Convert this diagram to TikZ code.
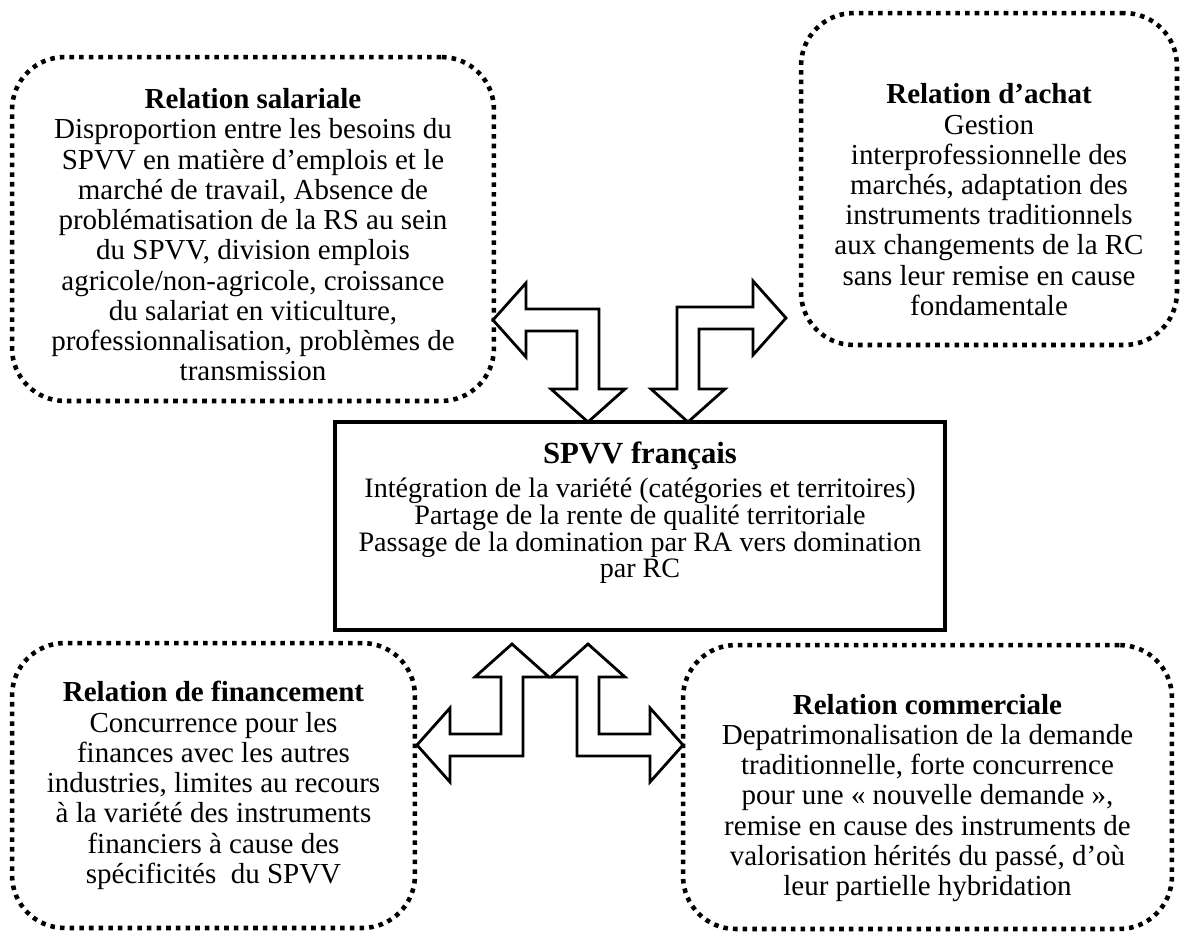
\documentclass[tikz,border=0pt]{standalone}
\usepackage{fontspec}
\setmainfont{Liberation Serif}
\tikzset{
  relbox/.style={draw, line width=2.6pt, dash pattern=on 2.6pt off 2.9pt, rounded corners=30pt,
    align=center, inner sep=0pt, font=\fontsize{16.5}{17.2}\selectfont},
  spvvbox/.style={draw, line width=2pt, align=center, inner sep=0pt,
    font=\fontsize{16}{15.2}\selectfont},
  hollow/.style={draw, line width=1.6pt, fill=white, line join=miter},
}
% hollow L-shaped double arrow: #1,#2 = horizontal tip, #3,#4 = vertical tip
\newcommand{\bentarrow}[4]{%
  \pgfmathsetmacro{\hdir}{sign(#3-#1)}%
  \pgfmathsetmacro{\vdir}{sign(#2-#4)}%
  \draw[hollow] (#1,#2) -- ({#1+33*\hdir},{#2+37*\vdir}) -- ({#1+33*\hdir},{#2+11*\vdir})
    -- ({#3+11*\hdir},{#2+11*\vdir}) -- ({#3+11*\hdir},{#4+33*\vdir}) -- ({#3+37*\hdir},{#4+33*\vdir})
    -- (#3,#4) -- ({#3-37*\hdir},{#4+33*\vdir}) -- ({#3-11*\hdir},{#4+33*\vdir})
    -- ({#3-11*\hdir},{#2-11*\vdir}) -- ({#1+33*\hdir},{#2-11*\vdir}) -- ({#1+33*\hdir},{#2-37*\vdir}) -- cycle;
}
\begin{document}
\begin{tikzpicture}[x=0.02cm, y=-0.02cm]
  \useasboundingbox (0,0) rectangle (1181,934);
  % the four relations
  \node[relbox, minimum width=9.64cm, minimum height=6.88cm] (salariale) at (253,229)
    {\rule{0pt}{18pt}\textbf{Relation salariale}\\ Disproportion entre les besoins du\\ SPVV en matière d’emplois et le\\
     marché de travail, Absence de\\ problématisation de la RS au sein\\ du SPVV, division emplois\\
     agricole/non-agricole, croissance\\ du salariat en viticulture,\\ professionnalisation, problèmes de\\ transmission};
  \node[relbox, minimum width=7.52cm, minimum height=6.64cm] (achat) at (989,179)
    {\rule{0pt}{35pt}\textbf{Relation d’achat}\\ Gestion\\ interprofessionnelle des\\ marchés, adaptation des\\
     instruments traditionnels\\ aux changements de la RC\\ sans leur remise en cause\\ fondamentale};
  \node[relbox, minimum width=8.06cm, minimum height=5.7cm] (financement) at (213.5,785.5)
    {\textbf{Relation de financement}\\ Concurrence pour les\\ finances avec les autres\\
     industries, limites au recours\\ à la variété des instruments\\ financiers à cause des\\ spécificités~ du SPVV};
  \node[relbox, minimum width=9.78cm, minimum height=5.68cm] (commerciale) at (927.5,787)
    {\rule{0pt}{24pt}\textbf{Relation commerciale}\\ Depatrimonalisation de la demande\\ traditionnelle, forte concurrence\\
     pour une « nouvelle demande »,\\ remise en cause des instruments de\\ valorisation hérités du passé, d’où\\ leur partielle hybridation};
  % the system
  \node[spvvbox, minimum width=12.2cm, minimum height=4.16cm] (spvv) at (640,526)
    {{\fontsize{17.5}{18}\selectfont\textbf{SPVV français}}\\[4pt] Intégration de la variété (catégories et territoires)\\
     Partage de la rente de qualité territoriale\\ Passage de la domination par RA vers domination\\ par RC\\[3pt]};
  % links
  \bentarrow{493}{320}{588}{422}
  \bentarrow{786}{318}{688}{422}
  \bentarrow{417}{745}{512}{644}
  \bentarrow{683}{745}{588}{644}
\end{tikzpicture}
\end{document}
